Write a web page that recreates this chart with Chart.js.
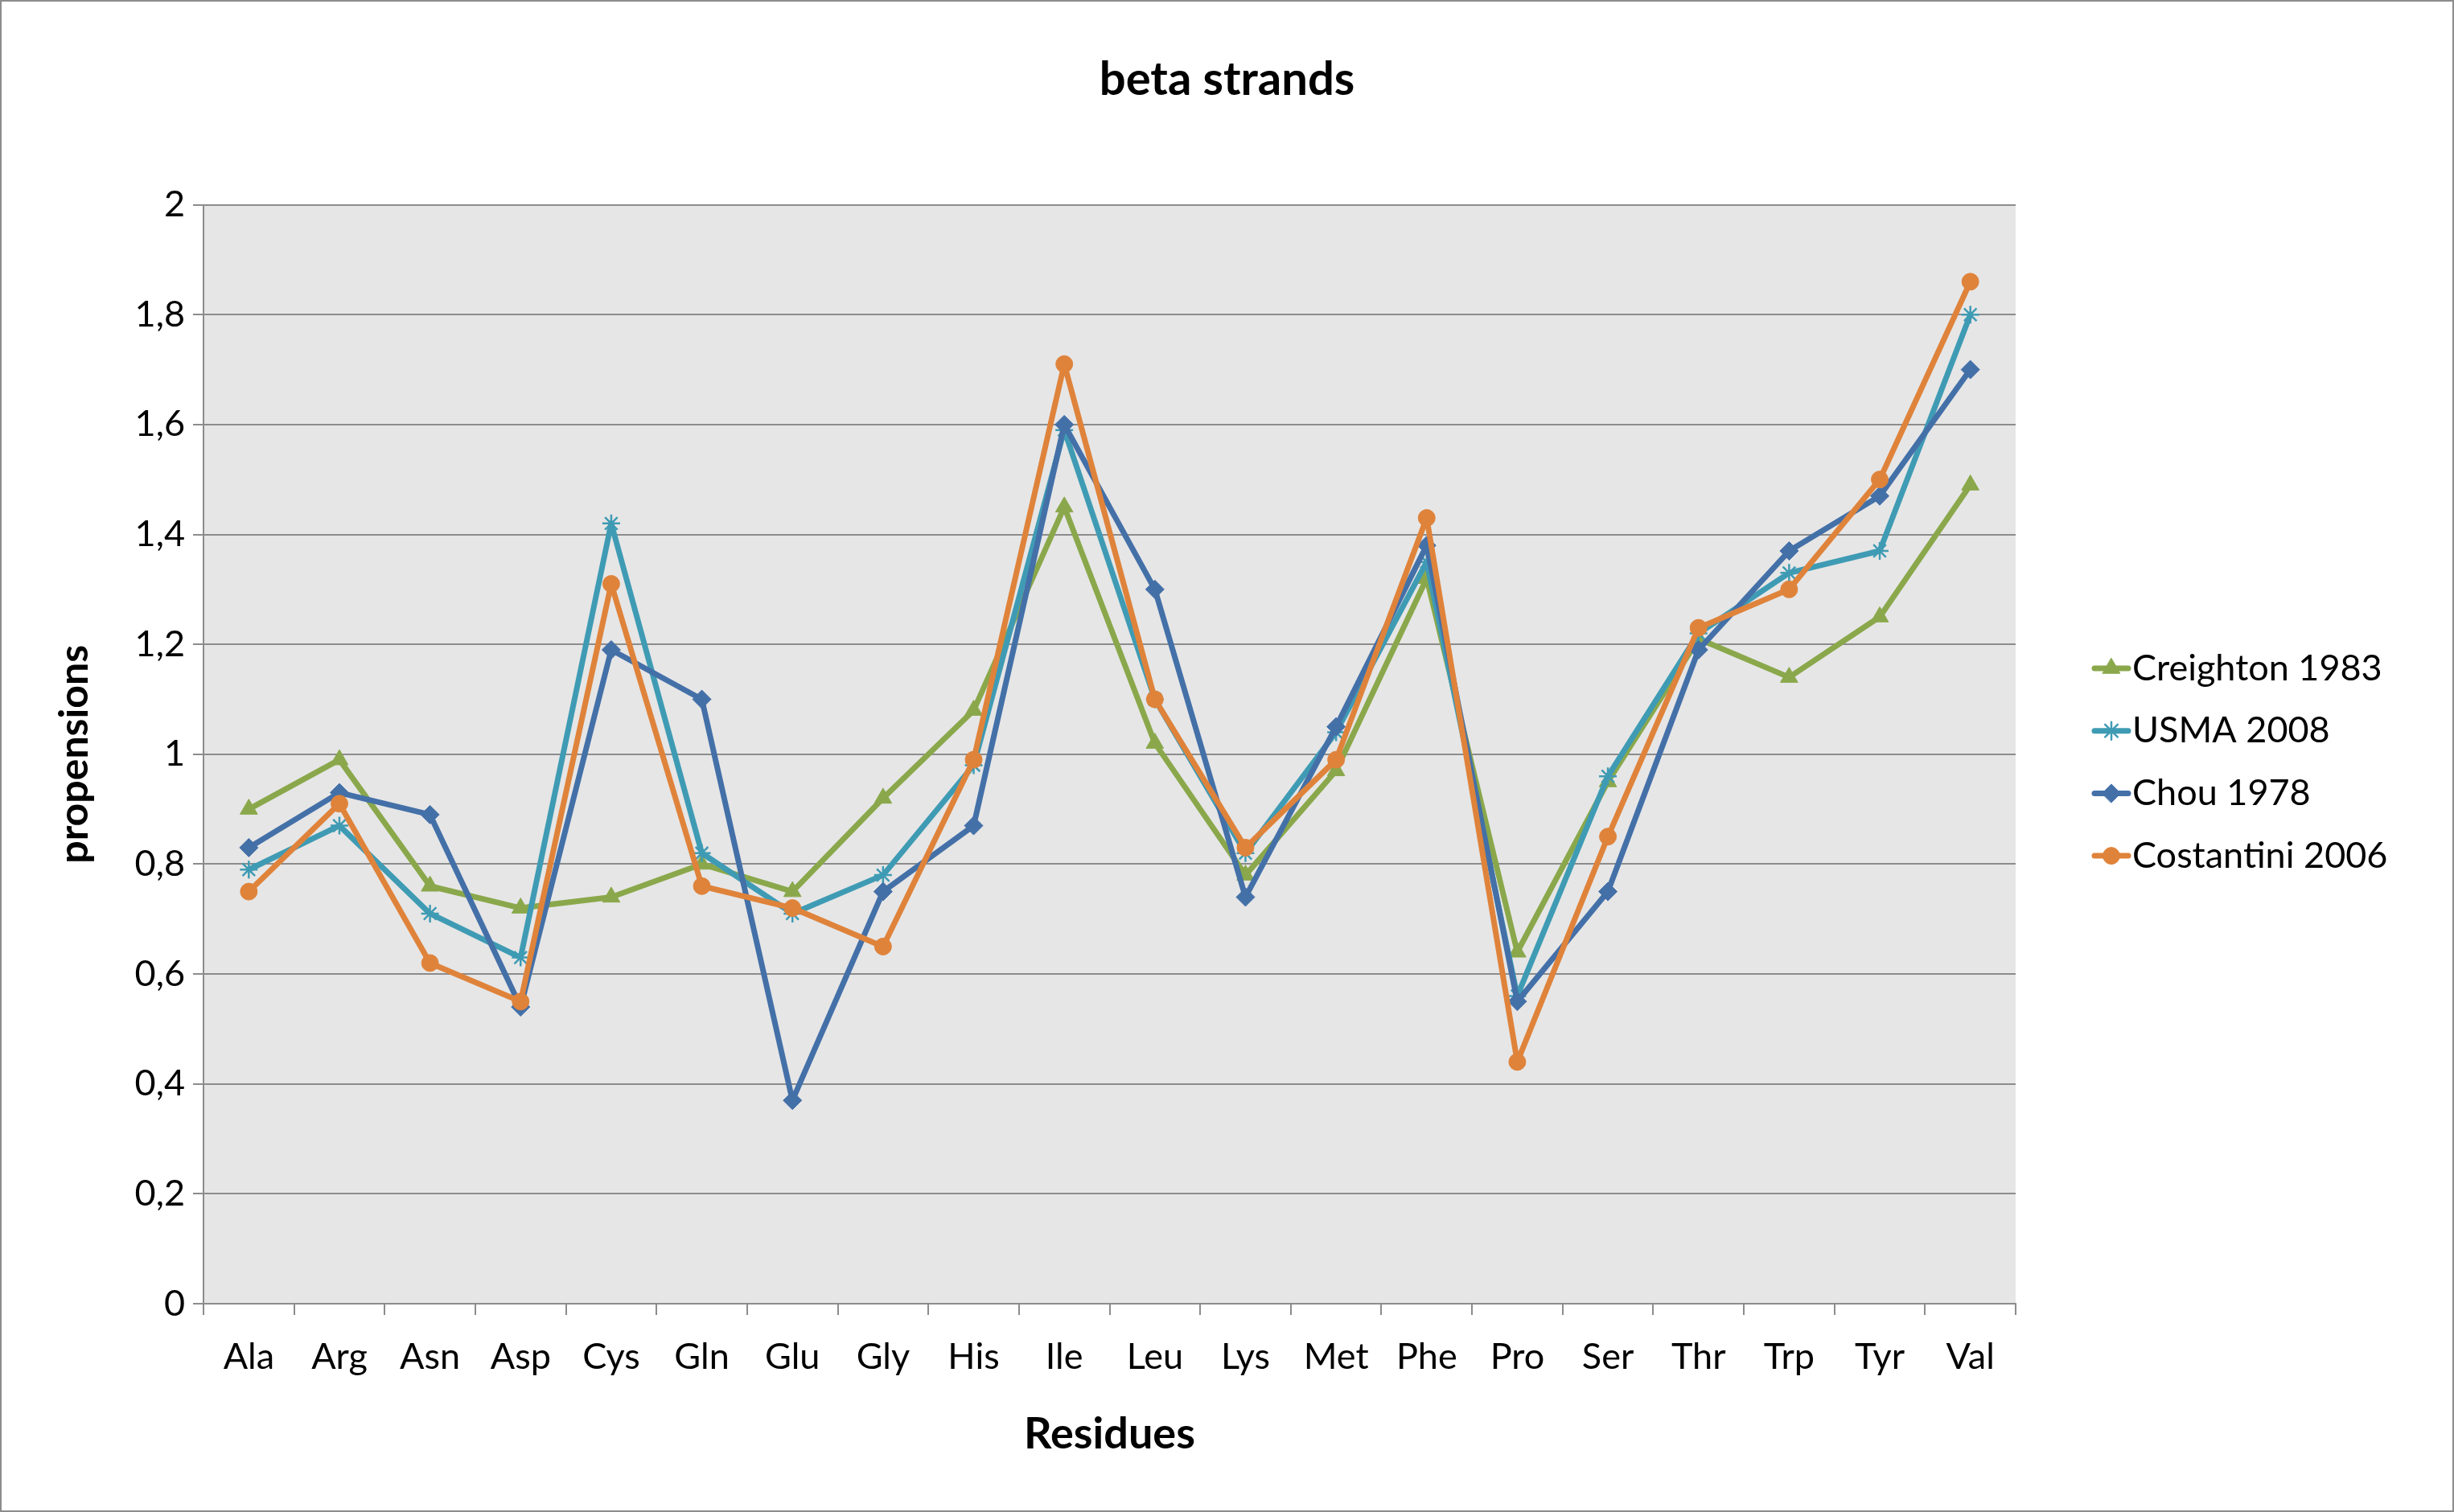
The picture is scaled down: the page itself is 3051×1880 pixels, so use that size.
<!DOCTYPE html>
<html>
<head>
<meta charset="utf-8">
<script src="https://cdn.jsdelivr.net/npm/chart.js@4.4.1/dist/chart.umd.min.js"></script>
<style>
  html, body { margin: 0; padding: 0; background: #fff; }
  canvas { display: block; }
</style>
</head>
<body>
<canvas id="chart" width="3051" height="1880"></canvas>
<script>
const residues = ['Ala', 'Arg', 'Asn', 'Asp', 'Cys', 'Gln', 'Glu', 'Gly', 'His', 'Ile',
                  'Leu', 'Lys', 'Met', 'Phe', 'Pro', 'Ser', 'Thr', 'Trp', 'Tyr', 'Val'];

const creighton1983 = [0.90, 0.99, 0.76, 0.72, 0.74, 0.80, 0.75, 0.92, 1.08, 1.45,
                       1.02, 0.78, 0.97, 1.32, 0.64, 0.95, 1.21, 1.14, 1.25, 1.49];
const usma2008 = [0.79, 0.87, 0.71, 0.63, 1.42, 0.82, 0.71, 0.78, 0.98, 1.59,
                  1.10, 0.82, 1.04, 1.35, 0.56, 0.96, 1.22, 1.33, 1.37, 1.80];
const chou1978 = [0.83, 0.93, 0.89, 0.54, 1.19, 1.10, 0.37, 0.75, 0.87, 1.60,
                  1.30, 0.74, 1.05, 1.38, 0.55, 0.75, 1.19, 1.37, 1.47, 1.70];
const costantini2006 = [0.75, 0.91, 0.62, 0.55, 1.31, 0.76, 0.72, 0.65, 0.99, 1.71,
                        1.10, 0.83, 0.99, 1.43, 0.44, 0.85, 1.23, 1.30, 1.50, 1.86];

const yTickLabels = ['0', '0,2', '0,4', '0,6', '0,8', '1', '1,2', '1,4', '1,6', '1,8', '2'];

const FONT = 'Lato, "Open Sans", sans-serif';
const GRID = '#8c8c8c';

function series(label, data, color, style, radius, order) {
    return {
        label: label,
        data: data,
        borderColor: color,
        backgroundColor: color,
        borderWidth: 7,
        tension: 0,
        borderJoinStyle: 'round',
        borderCapStyle: 'round',
        pointStyle: style,
        pointRadius: radius,
        pointHoverRadius: radius,
        pointBackgroundColor: color,
        pointBorderColor: color,
        pointBorderWidth: style === 'star' ? 2.5 : 1,
        order: order,
    };
}

// plot background, outer frame and the legend (line + marker like the original)
const decor = {
    id: 'decor',
    beforeDraw(chart) {
        const { ctx, chartArea: a } = chart;
        ctx.save();
        ctx.fillStyle = '#ffffff';
        ctx.fillRect(0, 0, chart.width, chart.height);
        ctx.fillStyle = '#e6e6e6';
        ctx.fillRect(a.left, a.top, a.right - a.left, a.bottom - a.top);
        ctx.restore();
    },
    afterDraw(chart) {
        const ctx = chart.ctx;
        ctx.save();
        ctx.strokeStyle = GRID;
        ctx.lineWidth = 2;
        ctx.strokeRect(1, 1, chart.width - 2, chart.height - 2);

        chart.data.datasets.forEach((ds, i) => {
            const y = 831 + i * 77.7;
            ctx.strokeStyle = ds.borderColor;
            ctx.lineWidth = 7;
            ctx.lineCap = 'round';
            ctx.beginPath();
            ctx.moveTo(2604, y);
            ctx.lineTo(2646, y);
            ctx.stroke();
            ctx.fillStyle = ds.borderColor;
            ctx.lineWidth = ds.pointBorderWidth;
            Chart.helpers.drawPoint(ctx, {
                pointStyle: ds.pointStyle,
                radius: ds.pointRadius,
                rotation: 0,
                borderWidth: ds.pointBorderWidth,
            }, 2625, y);
            ctx.fillStyle = '#000';
            ctx.font = '45px ' + FONT;
            ctx.textBaseline = 'middle';
            ctx.textAlign = 'left';
            ctx.fillText(ds.label, 2651, y);
        });
        ctx.restore();
    }
};

new Chart(document.getElementById('chart'), {
    type: 'line',
    data: {
        labels: residues,
        datasets: [
            series('Creighton 1983', creighton1983, '#8aa84b', 'triangle', 12.5, 4),
            series('USMA 2008', usma2008, '#3f9bb4', 'star', 11, 3),
            series('Chou 1978', chou1978, '#4470a8', 'rectRot', 11.5, 2),
            series('Costantini 2006', costantini2006, '#df833b', 'circle', 10.5, 1),
        ]
    },
    options: {
        responsive: false,
        animation: false,
        events: [],
        layout: { padding: 0 },
        plugins: {
            legend: { display: false },
            tooltip: { enabled: false },
            title: {
                display: true,
                text: 'beta strands',
                color: '#000',
                font: { family: FONT, size: 58, weight: 'bold' },
                padding: { top: 64, bottom: 121 },
            }
        },
        scales: {
            x: {
                offset: true,
                grid: {
                    offset: true,
                    drawOnChartArea: false,
                    drawTicks: true,
                    tickLength: 14,
                    color: GRID,
                    lineWidth: 2,
                },
                border: { display: true, color: GRID, width: 2 },
                ticks: {
                    color: '#000',
                    font: { family: FONT, size: 45 },
                    padding: 25,
                    maxRotation: 0,
                    autoSkip: false,
                },
                title: {
                    display: true,
                    text: 'Residues',
                    color: '#000',
                    font: { family: FONT, size: 54, weight: 'bold' },
                    padding: { top: 0, bottom: 64 },
                },
                afterFit(scale) { scale.height = 259; }
            },
            y: {
                min: 0,
                max: 2,
                ticks: {
                    stepSize: 0.2,
                    color: '#000',
                    font: { family: FONT, size: 45 },
                    padding: 10,
                    callback: (v, i) => yTickLabels[i],
                },
                grid: {
                    color: GRID,
                    lineWidth: 2,
                    tickLength: 13,
                    drawTicks: true,
                },
                border: { display: true, color: GRID, width: 2 },
                title: {
                    display: true,
                    text: 'propensions',
                    color: '#000',
                    font: { family: FONT, size: 50, weight: 'bold' },
                    padding: { top: 63, bottom: 0 },
                },
                afterFit(scale) { scale.width = 253; }
            },
            // empty right-hand box that reserves the space the legend sits in
            legendSpace: {
                type: 'linear',
                position: 'right',
                display: true,
                grid: { display: false, drawTicks: false },
                border: { display: false },
                ticks: { display: false },
                afterFit(scale) { scale.width = 545; }
            }
        }
    },
    plugins: [decor]
});
</script>
</body>
</html>
